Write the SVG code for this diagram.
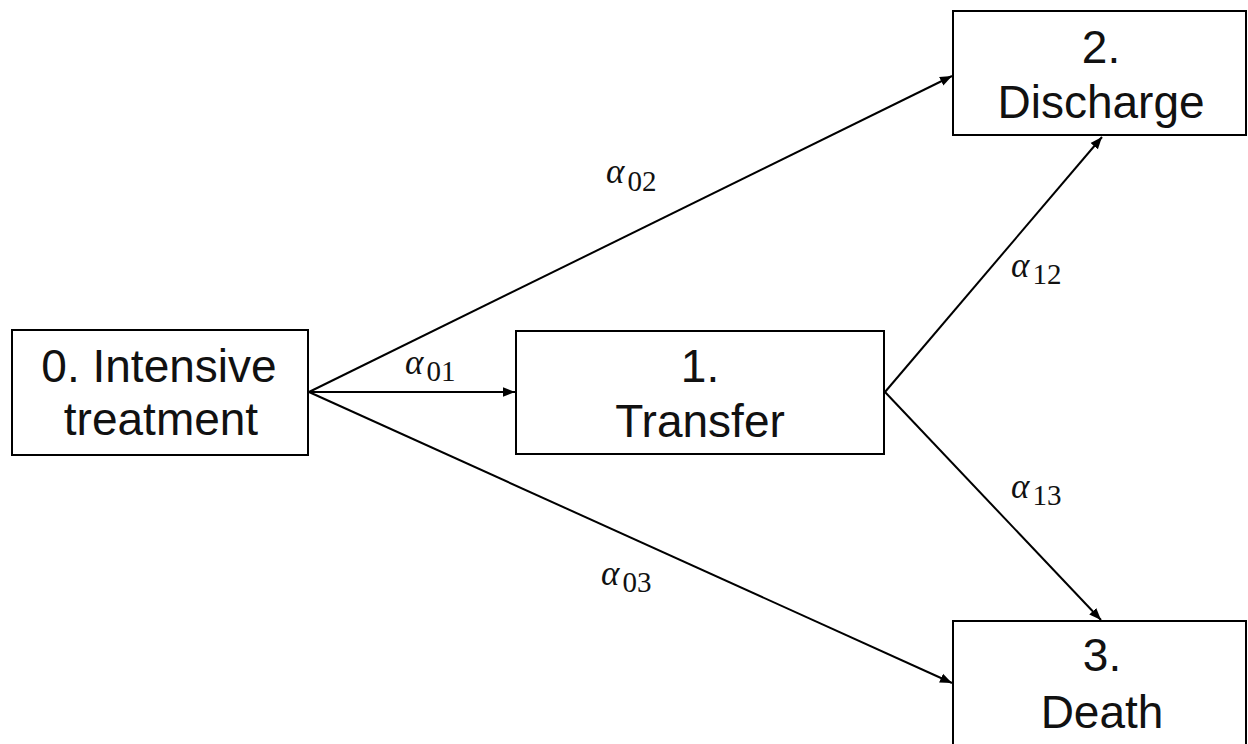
<svg xmlns="http://www.w3.org/2000/svg" width="1248" height="744" viewBox="0 0 1248 744">
<style>
.box{fill:#fff;stroke:#000;stroke-width:2}
.lbl{font-family:"Liberation Sans",Arial,sans-serif;font-size:46px;fill:#111;text-anchor:middle}
.edge{stroke:#000;stroke-width:2;fill:none;marker-end:url(#ah)}
.a{font-family:"Liberation Serif","DejaVu Serif",serif;font-size:35px;font-style:italic;fill:#111}
.s{font-style:normal;font-size:29px}
</style>
<defs>
<marker id="ah" viewBox="0 0 10 10" refX="10" refY="5" markerWidth="6" markerHeight="6" markerUnits="strokeWidth" orient="auto">
<path d="M0,1 L10,5 L0,9 z" fill="#000"/>
</marker>
</defs>
<rect width="1248" height="744" fill="#fff"/>
<g id="connectors">
<line class="edge" x1="309" y1="392" x2="952" y2="76"/>
<line class="edge" x1="309" y1="392" x2="515" y2="392"/>
<line class="edge" x1="309" y1="392" x2="952" y2="683"/>
<line class="edge" x1="885" y1="392" x2="1102" y2="137"/>
<line class="edge" x1="885" y1="392" x2="1101" y2="620"/>
</g>
<g id="labels">
<text class="a" x="606" y="183">α<tspan class="s" dx="3" dy="8">02</tspan></text>
<text class="a" x="405" y="374">α<tspan class="s" dx="3" dy="7">01</tspan></text>
<text class="a" x="601" y="585">α<tspan class="s" dx="3" dy="7">03</tspan></text>
<text class="a" x="1011" y="277">α<tspan class="s" dx="3" dy="7">12</tspan></text>
<text class="a" x="1011" y="498">α<tspan class="s" dx="3" dy="7">13</tspan></text>
</g>
<g id="node0">
<rect class="box" x="12" y="330" width="296" height="125"/>
<text class="lbl" x="159" y="382">0. Intensive</text>
<text class="lbl" x="161" y="435">treatment</text>
</g>
<g id="node1">
<rect class="box" x="516" y="331" width="368" height="123"/>
<text class="lbl" x="700" y="382">1.</text>
<text class="lbl" x="700" y="437">Transfer</text>
</g>
<g id="node2">
<rect class="box" x="953" y="11" width="293" height="124"/>
<text class="lbl" x="1101" y="63">2.</text>
<text class="lbl" x="1101" y="118">Discharge</text>
</g>
<g id="node3">
<rect class="box" x="953" y="621" width="293" height="140"/>
<text class="lbl" x="1102" y="671">3.</text>
<text class="lbl" x="1102" y="728">Death</text>
</g>
</svg>
